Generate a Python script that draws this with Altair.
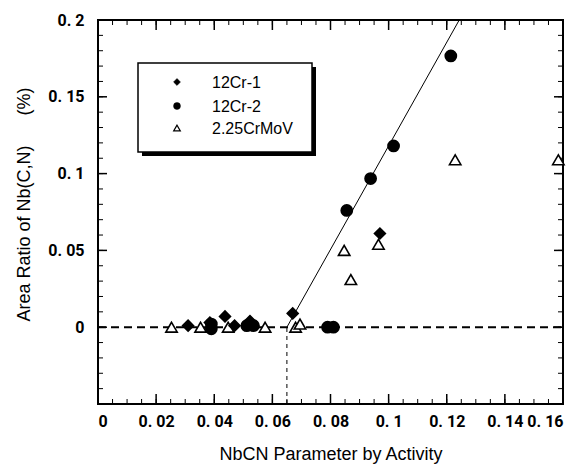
import altair as alt
import pandas as pd

# ---------------- data ----------------
series_names = ["12Cr-1", "12Cr-2", "2.25CrMoV"]

cr1_x = [0.031, 0.0385, 0.0437, 0.047, 0.0523, 0.067, 0.097]
cr1_y = [0.001, 0.003, 0.007, 0.001, 0.004, 0.009, 0.061]

cr2_x = [0.039, 0.039, 0.0512, 0.0535, 0.079, 0.081, 0.0856, 0.0938, 0.1017, 0.1214]
cr2_y = [0.002, -0.001, 0.001, 0.001, 0.0, 0.0, 0.076, 0.0968, 0.118, 0.1766]

mov_x = [0.0253, 0.0353, 0.0448, 0.0575, 0.068, 0.0695, 0.0847, 0.087, 0.0965, 0.1229, 0.1584]
mov_y = [0.0, 0.0, 0.0, 0.0, 0.0, 0.002, 0.050, 0.031, 0.054, 0.109, 0.109]

fit_x = [0.065, 0.1243]
fit_y = [0.0, 0.2]

base_x = [0.0, 0.16]
base_y = [0.0, 0.0]

thr_x = [0.065, 0.065]
thr_y = [-0.05, 0.0]

x_major = [0, 0.02, 0.04, 0.06, 0.08, 0.1, 0.12, 0.14, 0.16]
y_major = [-0.05, 0, 0.05, 0.1, 0.15, 0.2]
y_labeled = [0, 0.05, 0.1, 0.15, 0.2]
x_minor = [round(i * 0.005, 4) for i in range(33)]
y_minor = [round(-0.05 + i * 0.01, 4) for i in range(26)]

# ---------------- frames ----------------
W, H = 465, 384
pts = pd.concat([
    pd.DataFrame({"x": mov_x, "y": mov_y, "series": series_names[2]}),
    pd.DataFrame({"x": cr1_x, "y": cr1_y, "series": series_names[0]}),
    pd.DataFrame({"x": cr2_x, "y": cr2_y, "series": series_names[1]}),
], ignore_index=True)
pts["order"] = range(len(pts))

fit_df = pd.DataFrame({"x": fit_x, "y": fit_y})
base_df = pd.DataFrame({"x": base_x, "y": base_y})
thr_df = pd.DataFrame({"x": thr_x, "y": thr_y})
xmin_df = pd.DataFrame({"x": x_minor})
xmaj_df = pd.DataFrame({"x": x_major})
ymin_df = pd.DataFrame({"y": y_minor})
ymaj_df = pd.DataFrame({"y": y_major})
one_df = pd.DataFrame({"k": [0]})

TICK_FONT = "Roboto"
TEXT_FONT = "Liberation Sans, Arial, sans-serif"

shapes = ["diamond", "circle", "triangle-up"]
fills = ["black", "black", "white"]
sizes = [120, 130, 170]

xs = alt.Scale(domain=[0, 0.16], nice=False, zero=False)
ys = alt.Scale(domain=[-0.05, 0.2], nice=False, zero=False)

x_axis = alt.Axis(values=x_major, format="~g", labelExpr="replace(datum.label, '.', '. ')",
                  ticks=False, domain=False, grid=False, labelFont=TICK_FONT, labelFontSize=16,
                  labelFontWeight="bold", labelPadding=9, labelColor="black", labelOverlap=False,
                  title="NbCN Parameter by Activity", titleFont=TEXT_FONT, titleFontSize=18,
                  titleFontWeight="normal", titlePadding=16, titleColor="black")
y_axis = alt.Axis(values=y_labeled, format="~g", labelExpr="replace(datum.label, '.', '. ')",
                  ticks=False, domain=False, grid=False, labelFont=TICK_FONT, labelFontSize=16,
                  labelFontWeight="bold", labelPadding=14, labelColor="black", labelOverlap=False,
                  title="Area Ratio of Nb(C,N)\u00a0\u00a0\u00a0\u00a0\u00a0\u00a0(%)", titleFont=TEXT_FONT,
                  titleFontSize=18, titleFontWeight="normal", titlePadding=14, titleColor="black",
                  titleY=184)

X = lambda: alt.X("x:Q", scale=xs, axis=x_axis)
Y = lambda: alt.Y("y:Q", scale=ys, axis=y_axis)

layers = []

# legend box with drop shadow (strips) and outline
layers.append(alt.Chart(one_df).mark_rect(color="black").encode(
    x=alt.value(213), x2=alt.value(218), y=alt.value(47), y2=alt.value(136)))
layers.append(alt.Chart(one_df).mark_rect(color="black").encode(
    x=alt.value(44), x2=alt.value(218), y=alt.value(131), y2=alt.value(136)))
layers.append(alt.Chart(one_df).mark_rect(fill="white", stroke="black", strokeWidth=1.5).encode(
    x=alt.value(40), x2=alt.value(214), y=alt.value(43), y2=alt.value(132)))

# legend entries
leg_rows = [62, 86, 108]
for i, name in enumerate(series_names):
    layers.append(alt.Chart(one_df).mark_point(
        shape=shapes[i], fill=fills[i], fillOpacity=1, stroke="black",
        strokeWidth=1.2 if i == 2 else 0.5, size=48 if i != 2 else 44, opacity=1).encode(
        x=alt.value(79), y=alt.value(leg_rows[i])))
    layers.append(alt.Chart(one_df).mark_text(
        align="left", baseline="middle", font=TEXT_FONT, fontSize=16, color="black").encode(
        x=alt.value(114), y=alt.value(leg_rows[i] + 1), text=alt.value(name)))

# ticks (inward, all four sides)
layers.append(alt.Chart(xmin_df).mark_rule(color="black", strokeWidth=1).encode(
    x=X(), y=alt.value(H), y2=alt.value(H - 5)))
layers.append(alt.Chart(xmaj_df).mark_rule(color="black", strokeWidth=1.5).encode(
    x=X(), y=alt.value(H), y2=alt.value(H - 10)))
layers.append(alt.Chart(xmin_df).mark_rule(color="black", strokeWidth=1).encode(
    x=X(), y=alt.value(0), y2=alt.value(5)))
layers.append(alt.Chart(xmaj_df).mark_rule(color="black", strokeWidth=1.5).encode(
    x=X(), y=alt.value(0), y2=alt.value(10)))
layers.append(alt.Chart(ymin_df).mark_rule(color="black", strokeWidth=1).encode(
    y=Y(), x=alt.value(0), x2=alt.value(5)))
layers.append(alt.Chart(ymaj_df).mark_rule(color="black", strokeWidth=1.5).encode(
    y=Y(), x=alt.value(0), x2=alt.value(9)))
layers.append(alt.Chart(ymin_df).mark_rule(color="black", strokeWidth=1).encode(
    y=Y(), x=alt.value(W), x2=alt.value(W - 5)))
layers.append(alt.Chart(ymaj_df).mark_rule(color="black", strokeWidth=1.5).encode(
    y=Y(), x=alt.value(W), x2=alt.value(W - 9)))

# reference lines
layers.append(alt.Chart(base_df).mark_line(color="black", strokeWidth=2, strokeDash=[8, 5]).encode(
    x=X(), y=Y()))
layers.append(alt.Chart(thr_df).mark_line(color="black", strokeWidth=1, strokeDash=[4, 4]).encode(
    x=X(), y=Y()))
layers.append(alt.Chart(fit_df).mark_line(color="black", strokeWidth=1).encode(
    x=X(), y=Y()))

# points
layers.append(alt.Chart(pts).mark_point(filled=False, stroke="black", strokeWidth=1.6, opacity=1,
                                        fillOpacity=1).encode(
    x=X(), y=Y(),
    shape=alt.Shape("series:N", scale=alt.Scale(domain=series_names, range=shapes), legend=None),
    fill=alt.Fill("series:N", scale=alt.Scale(domain=series_names, range=fills), legend=None),
    size=alt.Size("series:N", scale=alt.Scale(domain=series_names, range=sizes), legend=None),
    order="order:Q",
))

chart = alt.layer(*layers).properties(
    width=W, height=H,
    autosize=alt.AutoSizeParams(type="none"),
    padding={"left": 98, "top": 20, "right": 22, "bottom": 66},
    background="white",
).configure_view(stroke="black", strokeWidth=2)

chart.save("out.html", embed_options={"renderer": "svg", "actions": False})
